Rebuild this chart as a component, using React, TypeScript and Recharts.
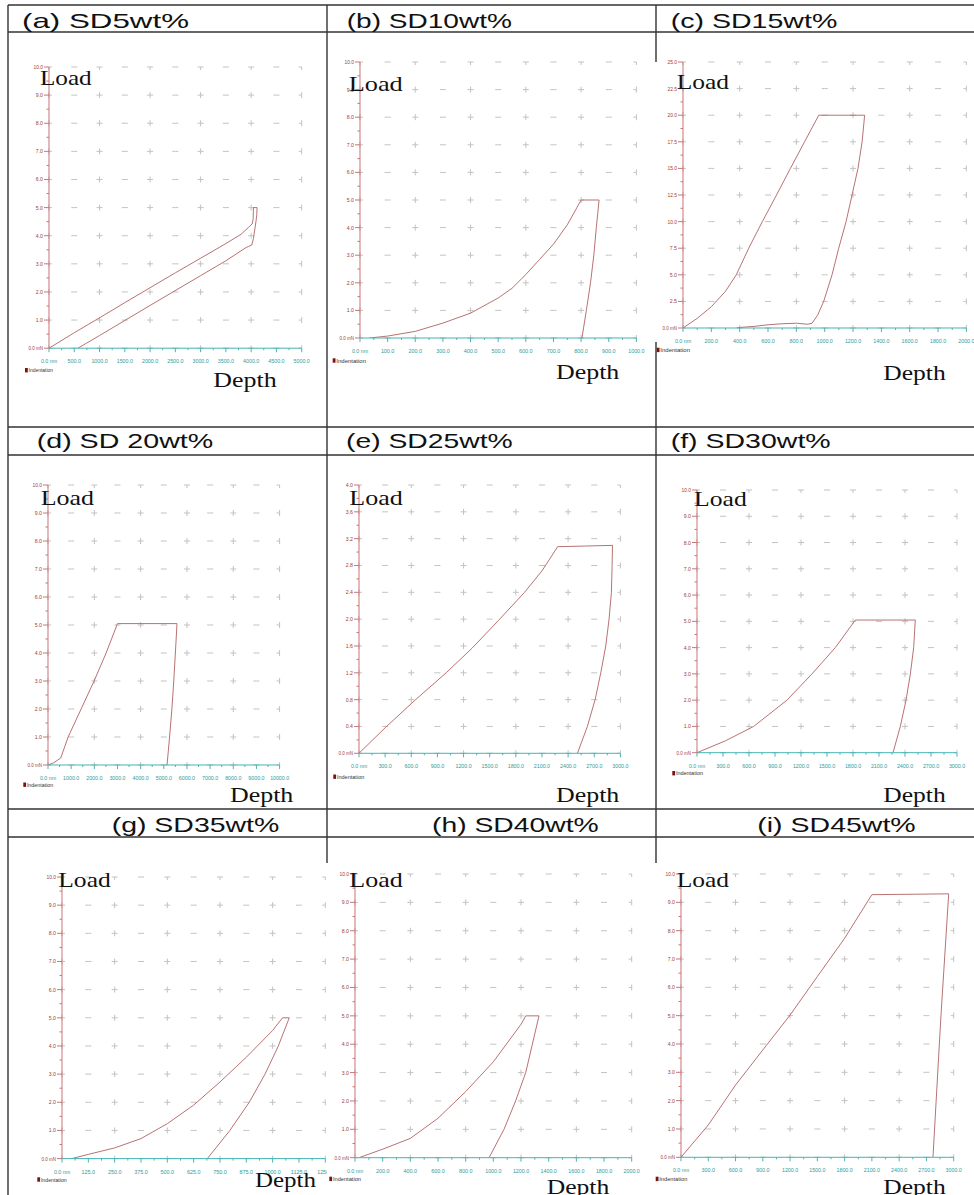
import React from 'react';
import { LineChart, Line, XAxis, YAxis, CartesianGrid } from 'recharts';

// ---- data (depth nm, load mN) ----
// each series runs loading -> hold -> unloading
const depthA = [0, 500, 1000, 1500, 2000, 2500, 3000, 3500, 3800, 3950, 4020, 4040, 4045, 4117, 4112, 4095, 4070, 4045, 4012, 3950, 3900, 3500, 3000, 2000, 1000, 573];
const loadA = [0, 0.55, 1.08, 1.62, 2.15, 2.68, 3.2, 3.72, 4.05, 4.3, 4.42, 4.6, 5.0, 5.0, 4.75, 4.5, 4.2, 3.9, 3.67, 3.62, 3.58, 3.11, 2.58, 1.52, 0.45, 0];

const depthB = [35, 100, 200, 300, 400, 500, 550, 600, 650, 700, 750, 800, 865, 860, 855, 846, 834, 819, 803];
const loadB = [0, 0.07, 0.24, 0.54, 0.9, 1.45, 1.8, 2.3, 2.85, 3.4, 4.1, 5.0, 5.0, 4.5, 4.0, 3.0, 2.0, 1.0, 0];

const depthC = [0, 100, 200, 300, 376, 464, 560, 660, 758, 858, 958, 1282, 1264, 1235, 1193, 1151, 1099, 1052, 993, 950, 911, 880, 800, 700, 600, 500, 400, 380];
const loadC = [0, 0.9, 2.0, 3.45, 5.0, 7.5, 10, 12.5, 15, 17.5, 20, 20, 17.5, 15, 12.5, 10, 7.5, 5, 2.5, 1.2, 0.45, 0.35, 0.45, 0.4, 0.3, 0.15, 0.05, 0];

const depthD = [0, 250, 550, 870, 1430, 1990, 2510, 3000, 5570, 5500, 5430, 5350, 5250, 5140];
const loadD = [0, 0.08, 0.25, 1.0, 2.0, 3.0, 4.0, 5.05, 5.05, 4.0, 3.0, 2.0, 1.0, 0];

const depthE = [0, 300, 650, 1000, 1300, 1600, 1900, 2100, 2280, 2600, 2909, 2905, 2897, 2870, 2832, 2775, 2710, 2621, 2507];
const loadE = [0, 0.38, 0.8, 1.2, 1.57, 1.98, 2.4, 2.72, 3.08, 3.09, 3.1, 2.8, 2.4, 2.0, 1.6, 1.2, 0.8, 0.4, 0];

const depthF = [0, 327, 654, 1038, 1327, 1596, 1827, 2519, 2500, 2462, 2412, 2346, 2262];
const loadF = [0, 0.45, 1.0, 2.0, 3.0, 4.0, 5.05, 5.05, 4.0, 3.0, 2.0, 1.0, 0];

const depthG = [46, 125, 250, 375, 500, 625, 750, 875, 1000, 1047, 1079, 1027, 964, 889, 797, 690];
const loadG = [0, 0.15, 0.38, 0.71, 1.24, 1.9, 2.72, 3.6, 4.55, 5.0, 5.0, 4.0, 3.0, 2.0, 1.0, 0];

const depthH = [29, 200, 400, 600, 800, 1000, 1200, 1234, 1330, 1282, 1234, 1161, 1077, 969];
const loadH = [0, 0.3, 0.68, 1.39, 2.33, 3.38, 4.7, 5.0, 5.0, 4.0, 3.0, 2.0, 1.0, 0];

const depthI = [0, 300, 600, 900, 1200, 1500, 1800, 2100, 2945, 2860, 2772];
const loadI = [0, 1.14, 2.55, 3.79, 5.02, 6.38, 7.73, 9.27, 9.3, 5.0, 0];

// ---- tick labels ----
const yTicks10 = [0, 1, 2, 3, 4, 5, 6, 7, 8, 9, 10];
const yTicks25 = [0, 2.5, 5, 7.5, 10, 12.5, 15, 17.5, 20, 22.5, 25];
const yTicks4 = [0, 0.4, 0.8, 1.2, 1.6, 2.0, 2.4, 2.8, 3.2, 3.6, 4.0];
const xTicks5000 = [0, 500, 1000, 1500, 2000, 2500, 3000, 3500, 4000, 4500, 5000];
const xTicks1000 = [0, 100, 200, 300, 400, 500, 600, 700, 800, 900, 1000];
const xTicks2000 = [0, 200, 400, 600, 800, 1000, 1200, 1400, 1600, 1800, 2000];
const xTicks10000 = [0, 1000, 2000, 3000, 4000, 5000, 6000, 7000, 8000, 9000, 10000];
const xTicks3000 = [0, 300, 600, 900, 1200, 1500, 1800, 2100, 2400, 2700, 3000];
const xTicks1250 = [0, 125, 250, 375, 500, 625, 750, 875, 1000, 1125, 1250];

const titles = ['(a) SD5wt%', '(b) SD10wt%', '(c) SD15wt%', '(d) SD 20wt%', '(e) SD25wt%', '(f) SD30wt%', '(g) SD35wt%', '(h) SD40wt%', '(i) SD45wt%'];

// colours
const Y_COLOR = '#c97474';
const Y_TEXT = '#9c4040';
const X_COLOR = '#45b4b4';
const X_TEXT = '#2b9c9c';
const CURVE = '#b06262';
const GRID = '#c2c2c2';

// axis geometry
const AXIS_W = 40;
const AXIS_H = 24;
const M_TOP = 6;
const M_BOTTOM = 4;
const Y_TICK = 5;
const Y_MARGIN = 1;
const X_TICK = 4;
const X_MARGIN = 9;
const ARM = 3;

type Pt = { x1: number; x2: number; y: number };
type PanelCfg = {
  title: string;
  depth: number[];
  load: number[];
  xTicks: number[];
  yTicks: number[];
  plot: { l: number; t: number; r: number; b: number };
  mr: number;
  titlePos: Pt;
  loadPos: Pt;
  depthPos: Pt;
  legend: { x: number; y: number; x2: number };
};

const panels: PanelCfg[] = [
  { title: titles[0], depth: depthA, load: loadA, xTicks: xTicks5000, yTicks: yTicks10, plot: { l: 49.3, t: 66.5, r: 302, b: 347.7 }, mr: 14,
    titlePos: { x1: 22, x2: 189, y: 28.3 }, loadPos: { x1: 40, x2: 91.7, y: 85 }, depthPos: { x1: 213.3, x2: 276.7, y: 386.7 }, legend: { x: 25, y: 368, x2: 53 } },
  { title: titles[1], depth: depthB, load: loadB, xTicks: xTicks1000, yTicks: yTicks10, plot: { l: 360.3, t: 62.3, r: 636.7, b: 338.3 }, mr: 14,
    titlePos: { x1: 346.7, x2: 512, y: 28.3 }, loadPos: { x1: 348.7, x2: 402.7, y: 90.7 }, depthPos: { x1: 556, x2: 619.3, y: 379.3 }, legend: { x: 332.7, y: 358.3, x2: 366 } },
  { title: titles[2], depth: depthC, load: loadC, xTicks: xTicks2000, yTicks: yTicks25, plot: { l: 683.3, t: 62.3, r: 966.7, b: 328.3 }, mr: 7.3,
    titlePos: { x1: 670.7, x2: 837.3, y: 28.3 }, loadPos: { x1: 676.7, x2: 729, y: 89.3 }, depthPos: { x1: 883.3, x2: 945.7, y: 380 }, legend: { x: 656.7, y: 347.7, x2: 690 } },
  { title: titles[3], depth: depthD, load: loadD, xTicks: xTicks10000, yTicks: yTicks10, plot: { l: 47.7, t: 485, r: 279.3, b: 765 }, mr: 16,
    titlePos: { x1: 36.7, x2: 213.3, y: 448.3 }, loadPos: { x1: 40.7, x2: 94, y: 505 }, depthPos: { x1: 230, x2: 293.3, y: 802 }, legend: { x: 23.3, y: 782.5, x2: 53.3 } },
  { title: titles[4], depth: depthE, load: loadE, xTicks: xTicks3000, yTicks: yTicks4, plot: { l: 359.3, t: 485, r: 620.7, b: 753.3 }, mr: 16,
    titlePos: { x1: 346, x2: 512.7, y: 448.3 }, loadPos: { x1: 349.3, x2: 402.7, y: 505 }, depthPos: { x1: 556, x2: 619.3, y: 802 }, legend: { x: 333.3, y: 774.5, x2: 364.3 } },
  { title: titles[5], depth: depthF, load: loadF, xTicks: xTicks3000, yTicks: yTicks10, plot: { l: 697.3, t: 490, r: 957.3, b: 752.7 }, mr: 16,
    titlePos: { x1: 670.7, x2: 830.7, y: 448.3 }, loadPos: { x1: 694, x2: 746.7, y: 505.7 }, depthPos: { x1: 883.3, x2: 945.7, y: 802 }, legend: { x: 672.3, y: 771, x2: 703 } },
  { title: titles[6], depth: depthG, load: loadG, xTicks: xTicks1250, yTicks: yTicks10, plot: { l: 62, t: 876.7, r: 325.3, b: 1158.3 }, mr: 1.7,
    titlePos: { x1: 111.7, x2: 279.3, y: 831.5 }, loadPos: { x1: 58.3, x2: 110.7, y: 887.3 }, depthPos: { x1: 255, x2: 316, y: 1187.3 }, legend: { x: 37.3, y: 1177.3, x2: 66.7 } },
  { title: titles[7], depth: depthH, load: loadH, xTicks: xTicks2000, yTicks: yTicks10, plot: { l: 355.3, t: 874, r: 632, b: 1157.7 }, mr: 16,
    titlePos: { x1: 432, x2: 598.7, y: 831.5 }, loadPos: { x1: 349.3, x2: 402.7, y: 887.3 }, depthPos: { x1: 546.7, x2: 609.3, y: 1194.3 }, legend: { x: 329.3, y: 1176.7, x2: 361 } },
  { title: titles[8], depth: depthI, load: loadI, xTicks: xTicks3000, yTicks: yTicks10, plot: { l: 681.3, t: 874, r: 954, b: 1157.3 }, mr: 16,
    titlePos: { x1: 757.3, x2: 915.7, y: 831.5 }, loadPos: { x1: 676.7, x2: 729, y: 887.3 }, depthPos: { x1: 883.3, x2: 945.7, y: 1194.3 }, legend: { x: 655.7, y: 1176.7, x2: 687.3 } },
];

const withMinors = (ticks: number[]) => {
  const out: number[] = [];
  ticks.forEach((v, i) => {
    out.push(v);
    if (i < ticks.length - 1) out.push((v + ticks[i + 1]) / 2);
  });
  return out;
};

const isMajor = (v: number, majors: number[]) => majors.some((m) => Math.abs(m - v) < 1e-9);

const YTick = (props: any) => {
  const { x, y, payload, majors } = props;
  const major = isMajor(payload.value, majors);
  const axisX = x + Y_MARGIN + Y_TICK;
  const label = payload.value === 0 ? '0.0 mN' : Number(payload.value).toFixed(1);
  return (
    <g>
      <line x1={major ? axisX - Y_TICK : axisX - 2.5} x2={axisX} y1={y} y2={y} stroke={Y_COLOR} strokeWidth={1} />
      {major && (
        <text x={x} y={y} textAnchor="end" dominantBaseline="central" fontSize={6} fill={Y_TEXT}
          fontFamily="'Liberation Sans', Arial, sans-serif" textLength={label.length * 2.4} lengthAdjust="spacingAndGlyphs">
          {label}
        </text>
      )}
    </g>
  );
};

const XTick = (props: any) => {
  const { x, y, payload, majors } = props;
  const major = isMajor(payload.value, majors);
  const axisY = y - X_MARGIN - X_TICK;
  const label = payload.value === 0 ? '0.0 nm' : Number(payload.value).toFixed(1);
  return (
    <g>
      <line x1={x} x2={x} y1={axisY} y2={axisY + (major ? X_TICK : 2)} stroke={X_COLOR} strokeWidth={1} />
      {major && (
        <text x={x} y={axisY + 13} textAnchor="middle" dominantBaseline="central" fontSize={6} fill={X_TEXT}
          fontFamily="'Liberation Sans', Arial, sans-serif" textLength={label.length * 2.7} lengthAdjust="spacingAndGlyphs">
          {label}
        </text>
      )}
    </g>
  );
};

const IndentPanel = ({ p }: { p: PanelCfg }) => {
  const { l, t, r, b } = p.plot;
  const plotW = r - l;
  const plotH = b - t;
  const width = AXIS_W + plotW + p.mr;
  const height = M_TOP + plotH + AXIS_H + M_BOTTOM;
  const data = p.depth.map((x, i) => ({ x, y: p.load[i] }));
  const xDomain = [p.xTicks[0], p.xTicks[p.xTicks.length - 1]];
  const yDomain = [p.yTicks[0], p.yTicks[p.yTicks.length - 1]];
  const sx = plotW / (p.xTicks.length - 1);
  const sy = plotH / (p.yTicks.length - 1);

  return (
    <div style={{ position: 'absolute', left: l - AXIS_W, top: t - M_TOP, width, height }}>
      <LineChart width={width} height={height} data={data} margin={{ top: M_TOP, right: p.mr, bottom: M_BOTTOM, left: 0 }}>
        {/* hidden axes carrying only the major ticks, for the "+" grid */}
        <XAxis xAxisId="grid" type="number" dataKey="x" domain={xDomain} ticks={p.xTicks} allowDataOverflow hide />
        <YAxis yAxisId="grid" type="number" dataKey="y" domain={yDomain} ticks={p.yTicks} allowDataOverflow hide />
        <CartesianGrid xAxisId="grid" yAxisId="grid" horizontal={false} stroke={GRID}
          strokeDasharray={`${ARM} ${sy - 2 * ARM} ${ARM} 0`} />
        <CartesianGrid xAxisId="grid" yAxisId="grid" vertical={false} stroke={GRID}
          strokeDasharray={`${ARM} ${sx - 2 * ARM} ${ARM} 0`} />
        <XAxis
          type="number"
          dataKey="x"
          domain={xDomain}
          ticks={withMinors(p.xTicks)}
          interval={0}
          allowDataOverflow
          height={AXIS_H}
          tickSize={X_TICK}
          tickMargin={X_MARGIN}
          tickLine={false}
          axisLine={{ stroke: X_COLOR, strokeWidth: 1 }}
          tick={(tp: any) => <XTick {...tp} majors={p.xTicks} />}
        />
        <YAxis
          type="number"
          dataKey="y"
          domain={yDomain}
          ticks={withMinors(p.yTicks)}
          interval={0}
          allowDataOverflow
          width={AXIS_W}
          tickSize={Y_TICK}
          tickMargin={Y_MARGIN}
          tickLine={false}
          axisLine={{ stroke: Y_COLOR, strokeWidth: 1 }}
          tick={(tp: any) => <YTick {...tp} majors={p.yTicks} />}
        />
        <Line type="linear" dataKey="y" stroke={CURVE} strokeWidth={0.9} dot={false} isAnimationActive={false} />
      </LineChart>
    </div>
  );
};

const StretchText = ({ pos, size, family, children }: { pos: Pt; size: number; family: string; children: string }) => (
  <text x={pos.x1} y={pos.y} fontSize={size} fontFamily={family} fill="#111"
    textLength={pos.x2 - pos.x1} lengthAdjust="spacingAndGlyphs">
    {children}
  </text>
);

const SANS = "'Liberation Sans', Arial, sans-serif";
const SERIF = "'Liberation Serif', 'Times New Roman', serif";

const App = () => {
  const hLines = [5, 32, 427, 455, 809, 837];
  return (
    <div style={{ position: 'absolute', left: 0, top: 0, width: 974, height: 1195, overflow: 'hidden', background: '#fff' }}>
      {panels.map((p) => (
        <IndentPanel key={p.title} p={p} />
      ))}
      <svg width={974} height={1195} style={{ position: 'absolute', left: 0, top: 0, pointerEvents: 'none' }}>
        {/* table rules */}
        {hLines.map((y) => (
          <line key={y} x1={8} x2={974} y1={y} y2={y} stroke="#333" strokeWidth={1.4} />
        ))}
        <line x1={8} x2={8} y1={5} y2={1195} stroke="#333" strokeWidth={1.4} />
        <line x1={327} x2={327} y1={5} y2={863} stroke="#333" strokeWidth={1.4} />
        <line x1={656} x2={656} y1={5} y2={62} stroke="#333" strokeWidth={1.4} />
        <line x1={656} x2={656} y1={342} y2={863} stroke="#333" strokeWidth={1.4} />

        {panels.map((p) => (
          <g key={p.title}>
            <StretchText pos={p.titlePos} size={21} family={SANS}>{p.title}</StretchText>
            <StretchText pos={p.loadPos} size={22} family={SERIF}>Load</StretchText>
            <StretchText pos={p.depthPos} size={22} family={SERIF}>Depth</StretchText>
            <rect x={p.legend.x} y={p.legend.y} width={2.8} height={4.4} fill="#7a1414" />
            <text x={p.legend.x + 3.6} y={p.legend.y + 4.2} fontSize={5.5} fontFamily={SANS} fill="#333"
              textLength={p.legend.x2 - p.legend.x - 3.6} lengthAdjust="spacingAndGlyphs">
              Indentation
            </text>
          </g>
        ))}
      </svg>
    </div>
  );
};

export default App;
